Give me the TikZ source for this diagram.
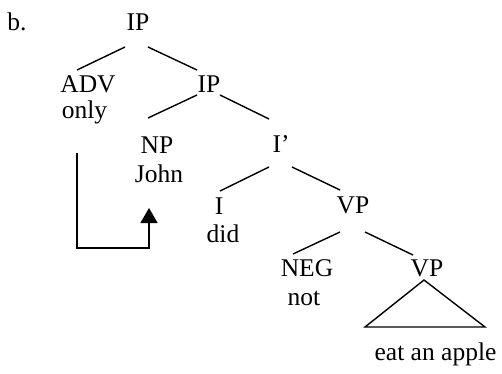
\documentclass[tikz,border=0pt]{standalone}
\usepackage{fontspec}
\setmainfont{Liberation Serif}
\usetikzlibrary{arrows.meta}
\begin{document}
\begin{tikzpicture}[x=1pt,y=1pt,
  lbl/.style={anchor=base,inner sep=0pt,font=\fontsize{25.5}{30}\selectfont},
  edge/.style={line width=1.4pt},
  move/.style={line width=1.4pt,-{Triangle[width=17pt,length=15pt]}}]
\useasboundingbox (0,0) rectangle (502,-373);

\node[lbl] (tag)  at (17,-30)  {b.};
\node[lbl] (ip1)  at (138,-30) {IP};
\node[lbl] (adv)  at (88,-92)  {ADV};
\node[lbl] (only) at (84.5,-118) {only};
\node[lbl] (ip2)  at (209,-92) {IP};
\node[lbl] (np)   at (157,-153) {NP};
\node[lbl] (john) at (159,-182) {John};
\node[lbl] (ibar) at (281,-152) {I’};
\node[lbl] (infl) at (219,-214) {I};
\node[lbl] (did)  at (223,-242) {did};
\node[lbl] (vp1)  at (353,-213) {VP};
\node[lbl] (neg)  at (307,-276) {NEG};
\node[lbl] (nott) at (304,-305) {not};
\node[lbl] (vp2)  at (427,-276) {VP};
\node[lbl] (yld)  at (435.5,-360) {eat an apple};

% branches
\draw[edge] ([shift={(-13,-17)}]ip1.base) -- ([shift={(-11,22)}]adv.base);
\draw[edge] ([shift={(10,-17)}]ip1.base)  -- ([shift={(-12,22)}]ip2.base);
\draw[edge] ([shift={(-12,-3)}]ip2.base)  -- ([shift={(-9,35)}]np.base);
\draw[edge] ([shift={(11,-3)}]ip2.base)   -- ([shift={(-12,33)}]ibar.base);
\draw[edge] ([shift={(-12,-15)}]ibar.base) -- ([shift={(1,23)}]infl.base);
\draw[edge] ([shift={(11,-15)}]ibar.base)  -- ([shift={(-13,23)}]vp1.base);
\draw[edge] ([shift={(-13,-19)}]vp1.base)  -- ([shift={(-14,22)}]neg.base);
\draw[edge] ([shift={(12,-19)}]vp1.base)   -- ([shift={(-14,21)}]vp2.base);

% collapsed constituent
\draw[edge,line join=miter] ([shift={(-3,-4)}]vp2.base) -- ([shift={(-62,-51)}]vp2.base)
  -- ([shift={(58,-51)}]vp2.base) -- cycle;

% movement arrow from ADV down and up to the subject
\draw[move] ([shift={(-7.5,-35)}]only.base) |- ([shift={(-10,-66)}]john.base)
  -- ([shift={(-10,-26)}]john.base);
\end{tikzpicture}
\end{document}
